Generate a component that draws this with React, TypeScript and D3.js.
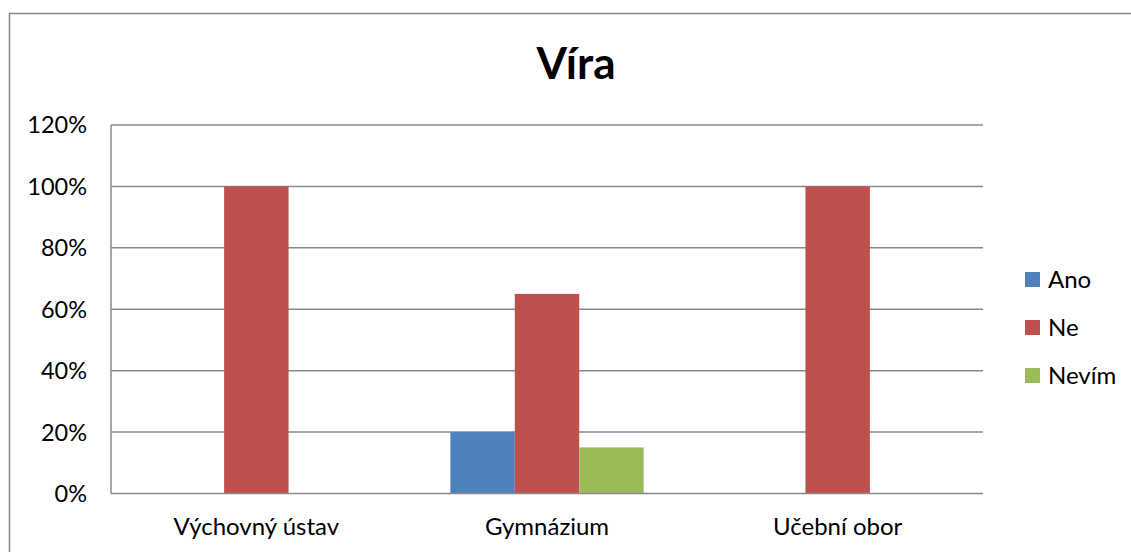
import React from "react";
import * as d3 from "d3";

const categories = ["Výchovný ústav", "Gymnázium", "Učební obor"];
const seriesNames = ["Ano", "Ne", "Nevím"];
const seriesColors = ["#4F81BD", "#C0504D", "#9BBB59"];
const ano = [0, 0.2, 0];
const ne = [1.0, 0.65, 1.0];
const nevim = [0, 0.15, 0];
const yTicks = [0, 0.2, 0.4, 0.6, 0.8, 1.0, 1.2];
const title = "Víra";

const W = 1131;
const H = 552;
const plot = { left: 111, right: 983, top: 125, bottom: 493.5 };
const FONT = "Lato, 'Open Sans', sans-serif";

export default function App() {
  const values = [ano, ne, nevim];
  const x0 = d3.scaleBand<string>().domain(categories).range([plot.left, plot.right]).paddingInner(0.335).paddingOuter(0.1675);
  const x1 = d3.scaleBand<string>().domain(seriesNames).range([0, x0.bandwidth()]).padding(0);
  const y = d3.scaleLinear().domain([0, 1.2]).range([plot.bottom, plot.top]);
  const fmt = d3.format(".0%");

  return (
    <svg width={W} height={H} style={{ position: "absolute", left: 0, top: 0, background: "#fff" }}>
      <rect x={9.5} y={13.5} width={W + 20} height={H + 20} fill="#fff" stroke="#868686" strokeWidth={1.5} />
      <text x={576} y={79} textAnchor="middle" fontFamily={FONT} fontWeight={700} fontSize={44} fill="#000">{title}</text>
      {yTicks.map((t) => (
        <g key={t}>
          {t > 0 && <line x1={plot.left} x2={plot.right} y1={y(t)} y2={y(t)} stroke="#8a8a8a" strokeWidth={1.5} />}
          <text x={87} y={y(t)} dy="0.36em" textAnchor="end" fontFamily={FONT} fontSize={23.5} fill="#000">{fmt(t)}</text>
        </g>
      ))}
      {categories.map((c, ci) => (
        <g key={c}>
          {seriesNames.map((s, si) => {
            const v = values[si][ci];
            if (!v) return null;
            const bx = (x0(c) as number) + (x1(s) as number);
            return <rect key={s} x={bx} y={y(v)} width={x1.bandwidth()} height={plot.bottom - y(v)} fill={seriesColors[si]} />;
          })}
          <text x={(x0(c) as number) + x0.bandwidth() / 2} y={535} textAnchor="middle" fontFamily={FONT} fontSize={24} fill="#000">{c}</text>
        </g>
      ))}
      <line x1={plot.left} x2={plot.left} y1={plot.top} y2={plot.bottom} stroke="#8a8a8a" strokeWidth={1.5} />
      <line x1={plot.left} x2={plot.right} y1={plot.bottom} y2={plot.bottom} stroke="#8a8a8a" strokeWidth={1.5} />
      {seriesNames.map((s, i) => (
        <g key={s}>
          <rect x={1025} y={272 + i * 48} width={15} height={15} fill={seriesColors[i]} />
          <text x={1048} y={279.5 + i * 48} dy="0.36em" fontFamily={FONT} fontSize={24} fill="#000">{s}</text>
        </g>
      ))}
    </svg>
  );
}
